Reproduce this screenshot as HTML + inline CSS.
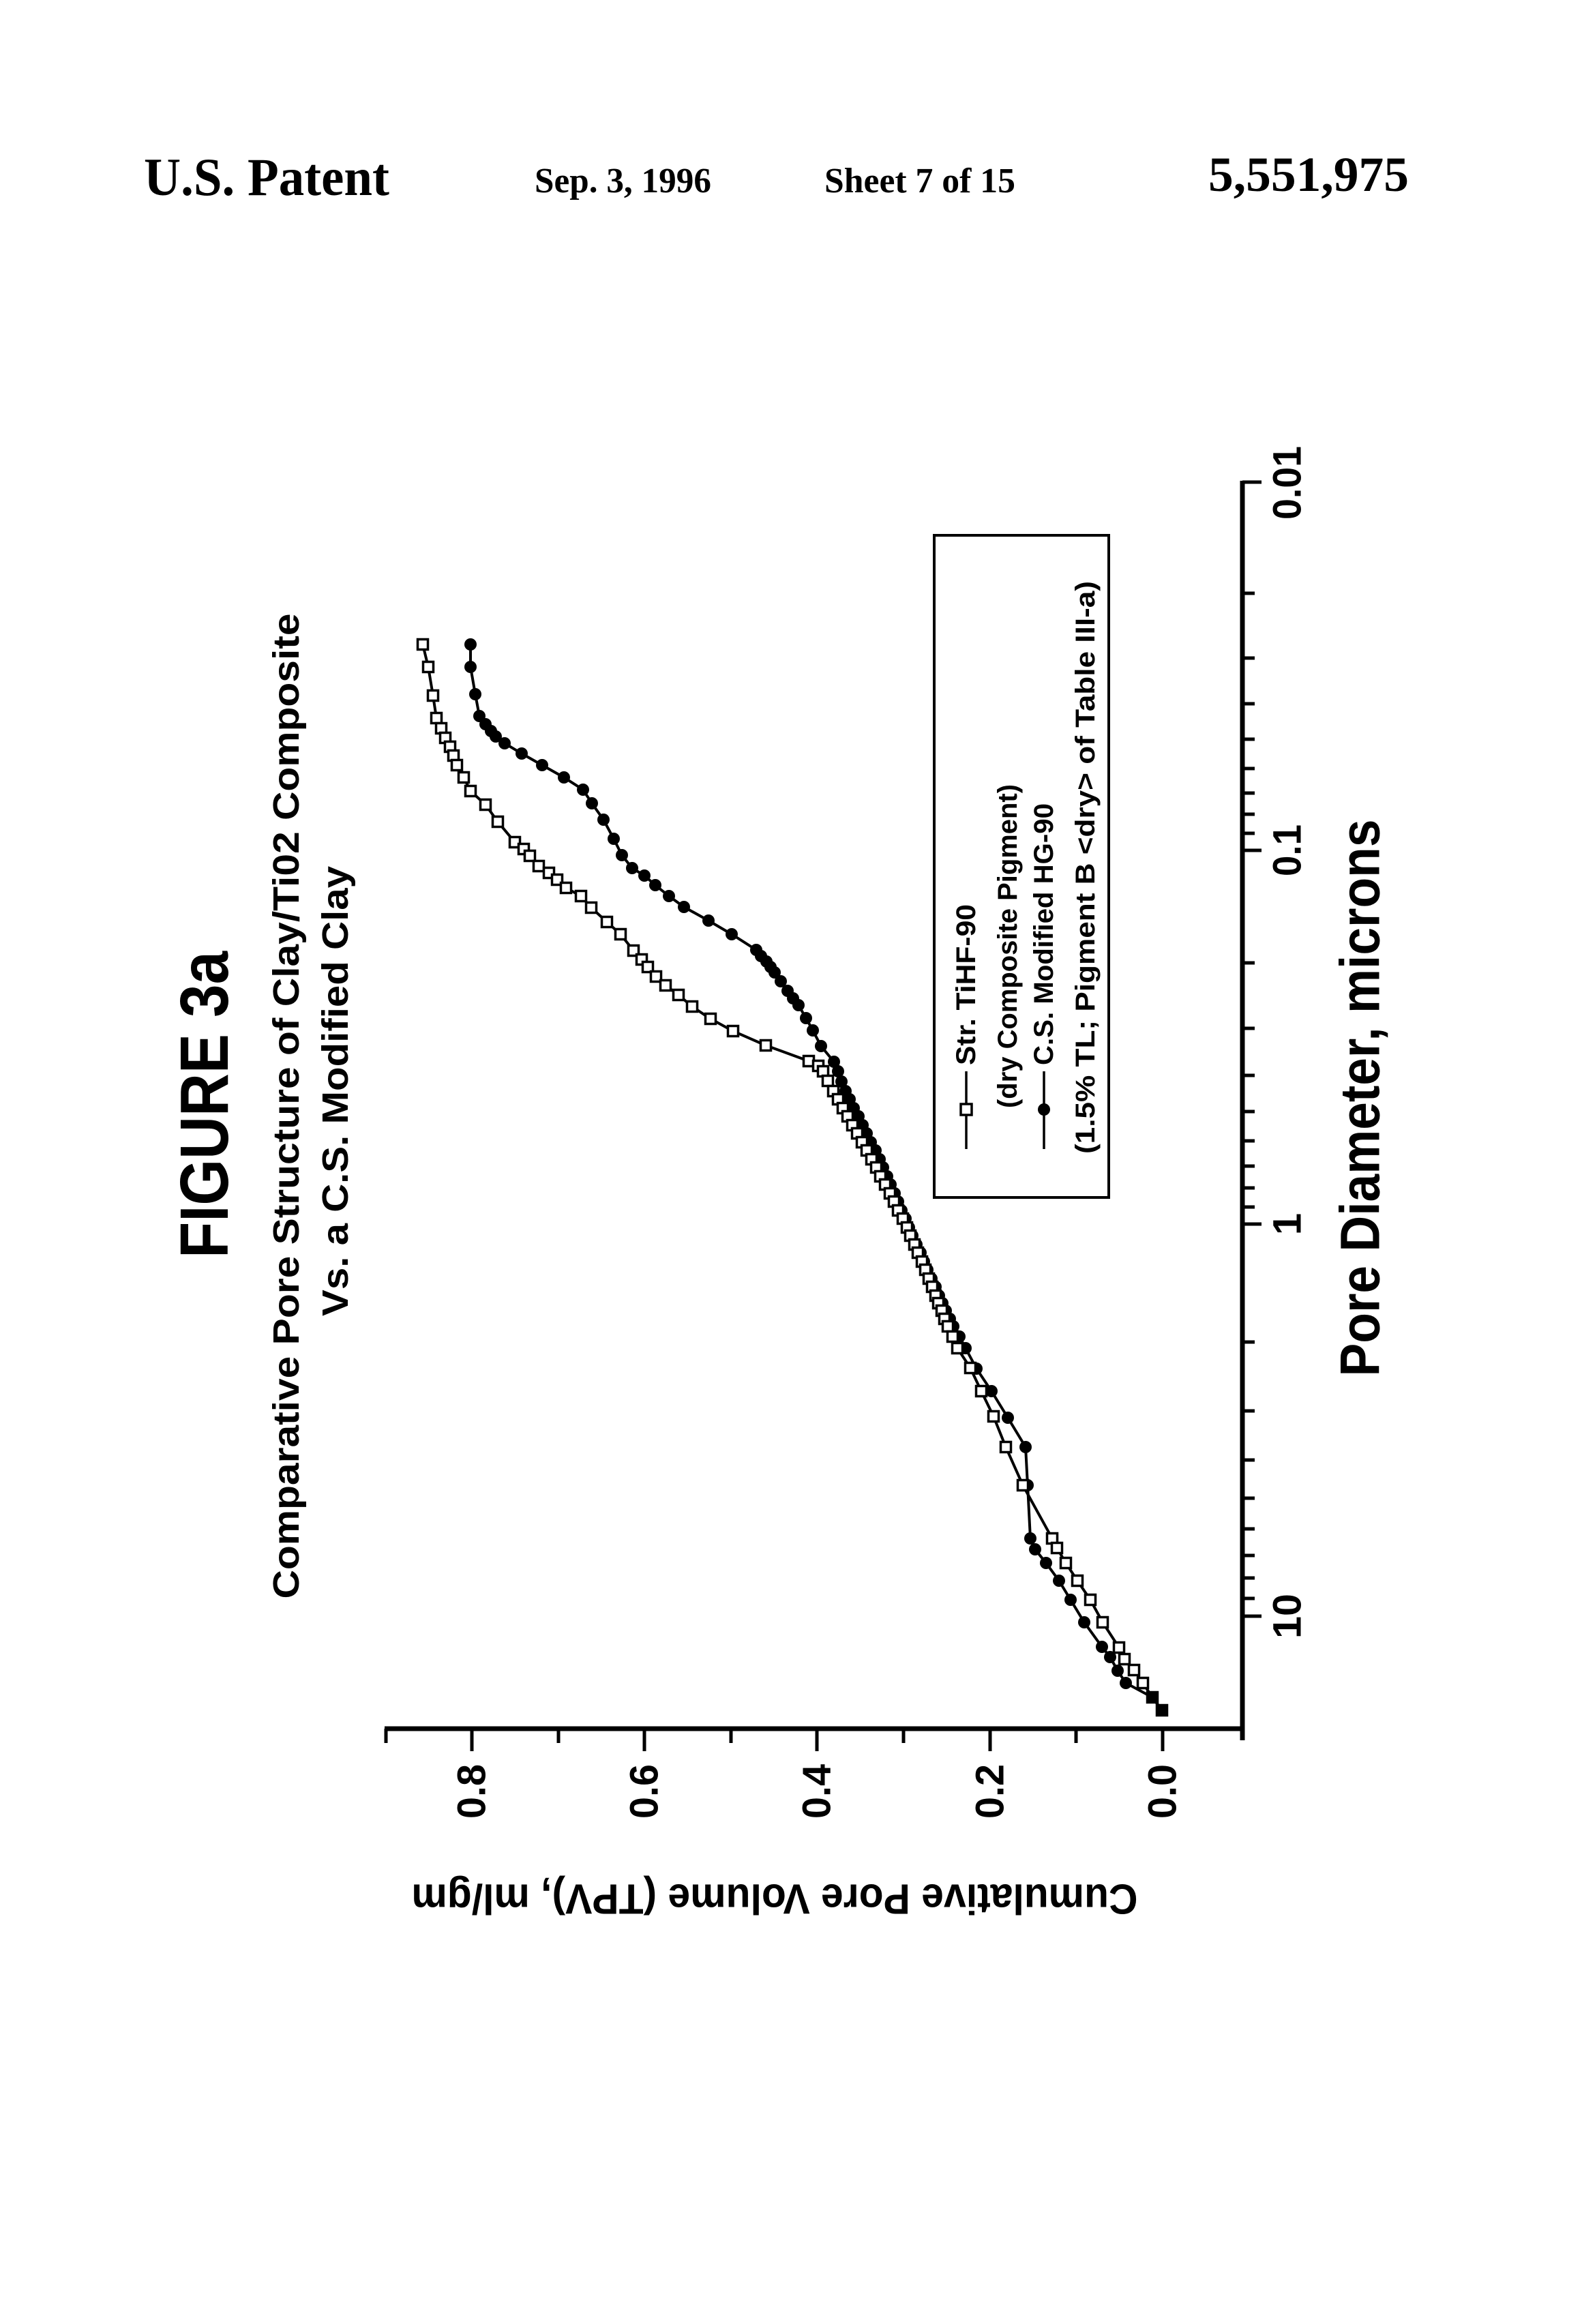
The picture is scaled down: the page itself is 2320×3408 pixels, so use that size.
<!DOCTYPE html>
<html><head><meta charset="utf-8"><style>
html,body{margin:0;padding:0;background:#fff;}
svg{display:block;}
text{font-family:"Liberation Sans",sans-serif;font-weight:bold;fill:#000;}
.serif{font-family:"Liberation Serif",serif;}
</style></head><body>
<svg width="2320" height="3408" viewBox="0 0 2320 3408" xmlns="http://www.w3.org/2000/svg">
<defs>
<marker id="sq" markerUnits="userSpaceOnUse" markerWidth="20" markerHeight="20" refX="10" refY="10" viewBox="0 0 20 20">
<rect x="2.5" y="2.5" width="15" height="15" fill="#fff" stroke="#000" stroke-width="3.5"/></marker>
<marker id="dt" markerUnits="userSpaceOnUse" markerWidth="20" markerHeight="20" refX="10" refY="10" viewBox="0 0 20 20">
<circle cx="10" cy="10" r="9" fill="#000"/></marker>
</defs>
<rect width="2320" height="3408" fill="#fff"/>

<!-- header -->
<text class="serif" x="211" y="286" font-size="78" textLength="360" lengthAdjust="spacingAndGlyphs">U.S. Patent</text>
<text class="serif" x="784" y="282" font-size="52" textLength="259" lengthAdjust="spacingAndGlyphs">Sep. 3, 1996</text>
<text class="serif" x="1209" y="282" font-size="52" textLength="280" lengthAdjust="spacingAndGlyphs">Sheet 7 of 15</text>
<text class="serif" x="1772" y="280" font-size="72" textLength="294" lengthAdjust="spacingAndGlyphs">5,551,975</text>

<!-- titles (rotated) -->
<text transform="translate(300,1620) rotate(-90)" text-anchor="middle" dominant-baseline="central" font-size="100" textLength="450" lengthAdjust="spacingAndGlyphs">FIGURE 3a</text>
<text transform="translate(420,1622) rotate(-90)" text-anchor="middle" dominant-baseline="central" font-size="54" textLength="1445" lengthAdjust="spacingAndGlyphs">Comparative Pore Structure of Clay/Ti02 Composite</text>
<text transform="translate(492,1600) rotate(-90)" text-anchor="middle" dominant-baseline="central" font-size="54" textLength="660" lengthAdjust="spacingAndGlyphs">Vs. a C.S. Modified Clay</text>

<!-- axes -->
<g stroke="#000" fill="none">
<line x1="564" y1="2535" x2="1824" y2="2535" stroke-width="7"/>
<line x1="1822" y1="705" x2="1822" y2="2552" stroke-width="7"/>
<g stroke-width="5">
<line x1="566" y1="2535" x2="566" y2="2556"/>
<line x1="692" y1="2535" x2="692" y2="2568"/>
<line x1="819" y1="2535" x2="819" y2="2556"/>
<line x1="945" y1="2535" x2="945" y2="2568"/>
<line x1="1072" y1="2535" x2="1072" y2="2556"/>
<line x1="1198" y1="2535" x2="1198" y2="2568"/>
<line x1="1325" y1="2535" x2="1325" y2="2556"/>
<line x1="1452" y1="2535" x2="1452" y2="2568"/>
<line x1="1578" y1="2535" x2="1578" y2="2556"/>
<line x1="1705" y1="2535" x2="1705" y2="2568"/>
</g>
<g stroke-width="5">
<line x1="1822" y1="707" x2="1850" y2="707"/>
<line x1="1822" y1="870" x2="1840" y2="870"/>
<line x1="1822" y1="965" x2="1840" y2="965"/>
<line x1="1822" y1="1032" x2="1840" y2="1032"/>
<line x1="1822" y1="1084" x2="1840" y2="1084"/>
<line x1="1822" y1="1127" x2="1840" y2="1127"/>
<line x1="1822" y1="1163" x2="1840" y2="1163"/>
<line x1="1822" y1="1194" x2="1840" y2="1194"/>
<line x1="1822" y1="1222" x2="1840" y2="1222"/>
<line x1="1822" y1="1247" x2="1850" y2="1247"/>
<line x1="1822" y1="1412" x2="1840" y2="1412"/>
<line x1="1822" y1="1508" x2="1840" y2="1508"/>
<line x1="1822" y1="1577" x2="1840" y2="1577"/>
<line x1="1822" y1="1630" x2="1840" y2="1630"/>
<line x1="1822" y1="1673" x2="1840" y2="1673"/>
<line x1="1822" y1="1710" x2="1840" y2="1710"/>
<line x1="1822" y1="1742" x2="1840" y2="1742"/>
<line x1="1822" y1="1770" x2="1840" y2="1770"/>
<line x1="1822" y1="1795" x2="1850" y2="1795"/>
<line x1="1822" y1="1968" x2="1840" y2="1968"/>
<line x1="1822" y1="2069" x2="1840" y2="2069"/>
<line x1="1822" y1="2141" x2="1840" y2="2141"/>
<line x1="1822" y1="2197" x2="1840" y2="2197"/>
<line x1="1822" y1="2242" x2="1840" y2="2242"/>
<line x1="1822" y1="2281" x2="1840" y2="2281"/>
<line x1="1822" y1="2314" x2="1840" y2="2314"/>
<line x1="1822" y1="2344" x2="1840" y2="2344"/>
<line x1="1822" y1="2370" x2="1850" y2="2370"/>
</g>
</g>

<!-- tick labels -->
<g font-size="58" text-anchor="middle" dominant-baseline="central">
<text transform="translate(692,2627) rotate(-90)" textLength="80" lengthAdjust="spacingAndGlyphs">0.8</text>
<text transform="translate(945,2627) rotate(-90)" textLength="80" lengthAdjust="spacingAndGlyphs">0.6</text>
<text transform="translate(1198,2627) rotate(-90)" textLength="80" lengthAdjust="spacingAndGlyphs">0.4</text>
<text transform="translate(1452,2627) rotate(-90)" textLength="80" lengthAdjust="spacingAndGlyphs">0.2</text>
<text transform="translate(1705,2627) rotate(-90)" textLength="80" lengthAdjust="spacingAndGlyphs">0.0</text>
<text transform="translate(1888,708) rotate(-90)" textLength="108" lengthAdjust="spacingAndGlyphs">0.01</text>
<text transform="translate(1888,1247) rotate(-90)" textLength="76" lengthAdjust="spacingAndGlyphs">0.1</text>
<text transform="translate(1888,1795) rotate(-90)">1</text>
<text transform="translate(1888,2370) rotate(-90)" textLength="66" lengthAdjust="spacingAndGlyphs">10</text>
</g>

<!-- axis titles -->
<text transform="translate(1995,1610) rotate(-90)" text-anchor="middle" dominant-baseline="central" font-size="82" textLength="817" lengthAdjust="spacingAndGlyphs">Pore Diameter, microns</text>
<text transform="translate(1136,2784) rotate(180)" text-anchor="middle" dominant-baseline="central" font-size="62" textLength="1065" lengthAdjust="spacingAndGlyphs">Cumulative Pore Volume (TPV), ml/gm</text>

<!-- legend -->
<rect x="1370" y="785" width="256" height="971" fill="none" stroke="#000" stroke-width="4"/>
<line x1="1417" y1="1571" x2="1417" y2="1685" stroke="#000" stroke-width="3.5"/>
<rect x="1409" y="1619" width="16" height="16" fill="#fff" stroke="#000" stroke-width="3.5"/>
<line x1="1531" y1="1571" x2="1531" y2="1685" stroke="#000" stroke-width="3.5"/>
<circle cx="1531" cy="1627" r="9" fill="#000"/>
<g font-size="40" dominant-baseline="central">
<text transform="translate(1417,1562) rotate(-90)" textLength="236" lengthAdjust="spacingAndGlyphs">Str. TiHF-90</text>
<text transform="translate(1478,1625) rotate(-90)" textLength="475" lengthAdjust="spacingAndGlyphs">(dry Composite Pigment)</text>
<text transform="translate(1531,1562) rotate(-90)" textLength="384" lengthAdjust="spacingAndGlyphs">C.S. Modified HG-90</text>
<text transform="translate(1592,1692) rotate(-90)" textLength="840" lengthAdjust="spacingAndGlyphs">(1.5% TL; Pigment B &lt;dry&gt; of Table III-a)</text>
</g>

<!-- series: C.S. Modified (dots) -->
<polyline fill="none" stroke="#000" stroke-width="4" marker-start="url(#dt)" marker-mid="url(#dt)" marker-end="url(#dt)" points="690,945 690,978 697,1018 703,1050 712,1062 720,1072 727,1080 740,1090 765,1105 795,1122 827,1140 855,1158 868,1178 885,1202 900,1230 912,1254 927,1273 945,1284 961,1298 981,1314 1003,1330 1039,1350 1073,1370 1109,1393 1116,1402 1124,1410 1130,1418 1136,1426 1145,1439 1155,1453 1163,1464 1171,1474 1182,1493 1192,1511 1204,1534 1223,1557 1229,1571 1234,1586 1240,1600 1246,1612 1252,1625 1259,1637 1265,1650 1271,1662 1277,1675 1284,1687 1290,1700 1295,1712 1301,1725 1306,1737 1312,1750 1317,1762 1322,1775 1328,1787 1333,1800 1338,1812 1344,1825 1350,1837 1355,1850 1360,1862 1366,1875 1372,1887 1377,1900 1382,1911 1387,1922 1393,1934 1398,1945 1407,1960 1416,1977 1432,2007 1454,2040 1478,2079 1504,2122 1507,2178 1511,2256 1518,2272 1534,2292 1553,2318 1570,2346 1590,2379 1616,2415 1628,2430 1639,2450 1651,2468 1690,2489 1704,2508"/>

<!-- series: Str. TiHF-90 (squares) -->
<polyline fill="none" stroke="#000" stroke-width="4" marker-start="url(#sq)" marker-mid="url(#sq)" marker-end="url(#sq)" points="620,945 628,978 635,1020 640,1053 647,1068 653,1082 660,1095 665,1108 670,1122 680,1140 690,1160 712,1180 730,1205 755,1235 768,1245 777,1255 790,1270 805,1280 817,1290 830,1302 852,1314 867,1331 890,1352 910,1370 929,1394 941,1407 950,1418 962,1432 976,1445 995,1459 1015,1476 1042,1494 1075,1512 1123,1533 1186,1556 1200,1563 1207,1571 1214,1585 1222,1600 1229,1612 1236,1625 1243,1637 1250,1650 1257,1662 1264,1675 1271,1687 1278,1700 1285,1712 1291,1725 1298,1737 1305,1750 1311,1762 1317,1775 1324,1787 1330,1800 1335,1812 1341,1825 1346,1837 1352,1850 1357,1862 1362,1875 1367,1887 1372,1900 1376,1911 1381,1922 1385,1934 1390,1945 1397,1960 1404,1977 1423,2006 1439,2040 1457,2077 1475,2122 1500,2178 1543,2256 1550,2270 1563,2292 1580,2318 1599,2346 1617,2379 1641,2416 1649,2433 1663,2449 1676,2468 1690,2489 1704,2508"/>
<rect x="1682" y="2481" width="16" height="16" fill="#000"/>
<rect x="1696" y="2500" width="16" height="16" fill="#000"/>
</svg>
</body></html>
